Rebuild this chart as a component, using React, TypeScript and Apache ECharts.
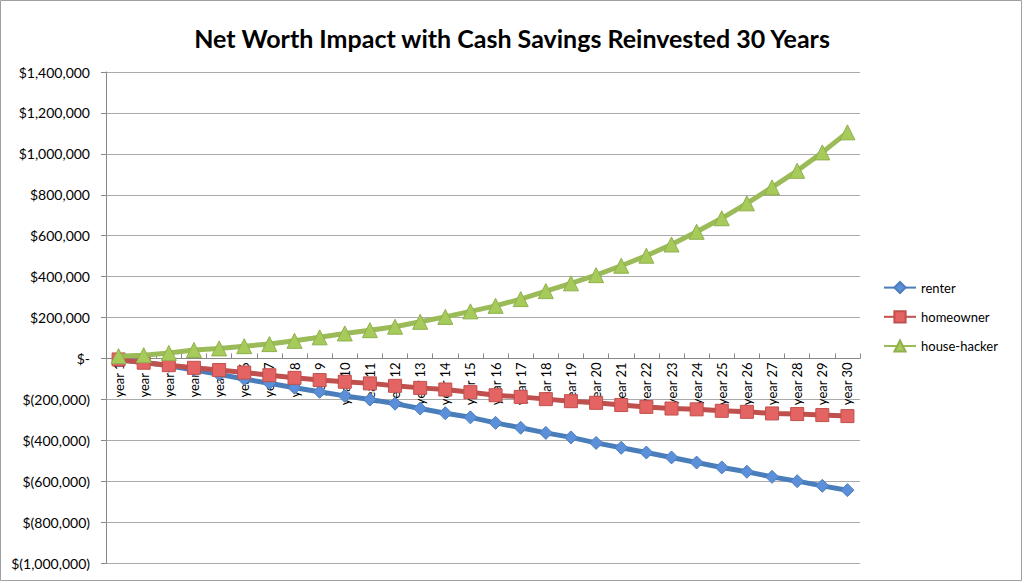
import React, { useEffect, useRef } from "react";
import * as echarts from "echarts";

const categories = Array.from({ length: 30 }, (_, i) => `year ${i + 1}`);

const renter = [
  -8000, -19000, -36000, -57000, -78000, -101000, -121000, -143000, -163000, -183000,
  -201000, -221000, -245000, -268000, -288000, -315000, -339000, -364000, -386000, -413000,
  -437000, -460000, -484000, -509000, -533000, -554000, -579000, -600000, -623000, -644000,
];

const homeowner = [
  -5000, -21000, -33000, -46000, -57000, -69000, -82000, -95000, -106000, -114000,
  -122000, -134000, -144000, -152000, -165000, -180000, -188000, -199000, -209000, -217000,
  -228000, -237000, -245000, -249000, -256000, -261000, -269000, -272000, -277000, -282000,
];

const houseHacker = [
  11000, 16000, 27000, 41000, 49000, 60000, 70000, 86000, 103000, 122000,
  138000, 155000, 179000, 203000, 230000, 257000, 290000, 329000, 367000, 407000,
  453000, 502000, 557000, 619000, 685000, 758000, 836000, 917000, 1007000, 1105000,
];

const seriesNames = ["renter", "homeowner", "house-hacker"];

const yMin = -1000000;
const yMax = 1400000;

function money(v: number): string {
  if (v === 0) return "$-";
  const s = Math.abs(v).toLocaleString("en-US");
  return v < 0 ? `$(${s})` : `$${s}`;
}

export default function App() {
  const ref = useRef<HTMLDivElement>(null);
  useEffect(() => {
    if (!ref.current) return;
    const chart = echarts.init(ref.current, null, { renderer: "svg" });
    const font = "Lato, 'Open Sans', sans-serif";
    const gridTop = 72;
    const gridBottom = 20;
    const gridHeight = 583 - gridTop - gridBottom;
    // distance from grid bottom up to the zero line
    const zeroOffset = (gridHeight * (0 - yMin)) / (yMax - yMin);
    chart.setOption({
      animation: false,
      backgroundColor: "#ffffff",
      textStyle: { fontFamily: font },
      title: {
        text: "Net Worth Impact with Cash Savings Reinvested 30 Years",
        left: "center",
        top: 20,
        textStyle: { fontFamily: font, fontWeight: "bold", fontSize: 25, color: "#000" },
      },
      graphic: [
        {
          type: "rect",
          shape: { x: 0.5, y: 0.5, width: 1021, height: 580 },
          style: { fill: "none", stroke: "#a0a0a0", lineWidth: 1 },
          silent: true,
        },
      ],
      legend: {
        orient: "vertical",
        left: 883,
        top: 281,
        padding: 0,
        itemWidth: 32,
        itemHeight: 14,
        itemGap: 16,
        data: seriesNames,
        textStyle: { fontFamily: font, fontSize: 13, color: "#000" },
      },
      grid: {
        left: 106,
        right: 164,
        top: gridTop,
        bottom: gridBottom,
        containLabel: false,
        outerBoundsMode: "none",
      },
      xAxis: {
        type: "category",
        data: categories,
        boundaryGap: true,
        position: "bottom",
        offset: -zeroOffset,
        axisLine: { onZero: false, lineStyle: { color: "#888", width: 1 } },
        axisTick: { show: true, inside: true, length: 5, lineStyle: { color: "#888" } },
        axisLabel: { rotate: 90, margin: 4, fontSize: 13, color: "#000", fontFamily: font, interval: 0 },
        splitLine: { show: false },
        z: 1,
      },
      yAxis: {
        type: "value",
        min: yMin,
        max: yMax,
        interval: 200000,
        axisLine: { show: true, lineStyle: { color: "#888", width: 1 } },
        axisTick: { show: true, length: 5, lineStyle: { color: "#888" } },
        axisLabel: { formatter: money, fontSize: 14, color: "#000", margin: 16, fontFamily: font },
        splitLine: { show: true, lineStyle: { color: "#aaaaaa", width: 1 } },
      },
      series: [
        {
          name: "renter",
          type: "line",
          data: renter,
          symbol: "diamond",
          symbolSize: 13,
          lineStyle: { color: "#4a7ebb", width: 5 },
          itemStyle: { color: "#5b8fd9", borderColor: "#4a7ebb", borderWidth: 1 },
          z: 2,
        },
        {
          name: "homeowner",
          type: "line",
          data: homeowner,
          symbol: "rect",
          symbolSize: 13,
          lineStyle: { color: "#c0504d", width: 5 },
          itemStyle: { color: "#e46463", borderColor: "#c0504d", borderWidth: 1 },
          z: 3,
        },
        {
          name: "house-hacker",
          type: "line",
          data: houseHacker,
          symbol: "triangle",
          symbolSize: 15,
          lineStyle: { color: "#9bbb59", width: 5 },
          itemStyle: { color: "#a6cb5b", borderColor: "#8fb04c", borderWidth: 1 },
          z: 4,
        },
      ],
    });
    return () => chart.dispose();
  }, []);
  return (
    <div
      ref={ref}
      style={{ position: "fixed", left: 0, top: 0, width: 1024, height: 583 }}
    />
  );
}
